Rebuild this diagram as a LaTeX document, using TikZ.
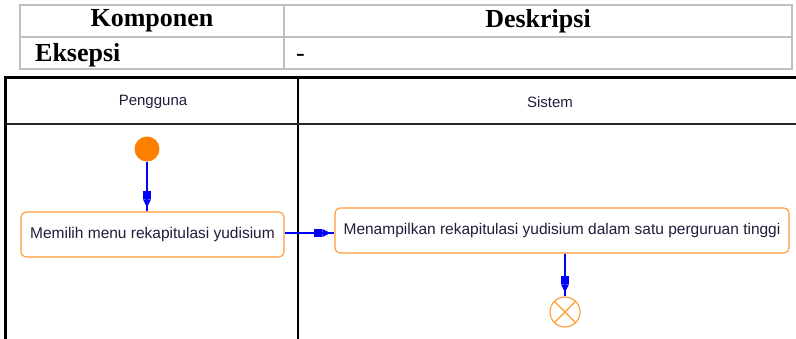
\documentclass[tikz,border=0pt]{standalone}
\usepackage{fontspec}
\setmainfont{Liberation Serif}
\newfontfamily\diagfont{Liberation Sans}
\usetikzlibrary{arrows.meta,calc}
\definecolor{tgray}{HTML}{BFBFBF}
\definecolor{uorange}{HTML}{FF8000}
\definecolor{borange}{HTML}{FF9933}
\definecolor{txtc}{HTML}{1E1E3C}
\tikzset{
  tline/.style={draw=tgray,line width=1.6pt},
  thead/.style={font=\fontsize{26}{28}\selectfont\bfseries,inner sep=0pt},
  actbox/.style={draw=borange,line width=1.1pt,rounded corners=5pt,fill=white,
     font=\diagfont\fontsize{15.5}{17}\selectfont,text=txtc,inner sep=0pt,minimum height=45pt},
  lanetitle/.style={font=\diagfont\fontsize{15}{17}\selectfont,text=txtc,inner sep=0pt},
  flow/.style={draw=blue,line width=1.3pt,
     postaction={draw=blue,shorten >=4pt,
       -{Rectangle[length=8pt,width=7.5pt,sep=0pt]Triangle[length=8pt,width=7.5pt]}}},
}
\begin{document}
\begin{tikzpicture}[x=1pt,y=-1pt]
\useasboundingbox (0,0) rectangle (796,339);
% table
\draw[tline] (20,5) rectangle (792,69);
\draw[tline] (20,37) -- (792,37);
\draw[tline] (284,5) -- (284,69);
\node[thead] (hk) at (152,21) {Komponen};
\node[thead] (hd) at (538,21) {Deskripsi};
\node[thead,anchor=base west] (ek) at (35,62) {Eksepsi};
\node[font=\fontsize{26}{28}\selectfont,inner sep=0pt,anchor=base west] (dash) at (296,62) {-};
% pool
\draw[black,line width=2pt] (298,78) -- (298,339);
\draw[black!85,line width=2pt] (5,124) -- (796,124);
\draw[black,line width=3pt] (5,339) -- (5,78) -- (796,78);
\node[lanetitle] (lp) at (153,102) {Pengguna};
\node[lanetitle] (ls) at (550,102) {Sistem};
% nodes
\node[circle,fill=uorange,minimum size=25pt,inner sep=0pt] (start) at (147,149) {};
\node[actbox,minimum width=263pt] (act1) at (152.5,234.5) {Memilih menu rekapitulasi yudisium};
\node[actbox,minimum width=454pt] (act2) at (562,230.5) {Menampilkan rekapitulasi yudisium dalam satu perguruan tinggi};
\node[circle,draw=borange,line width=1.1pt,minimum size=30pt,inner sep=0pt] (end) at (565,312) {};
\draw[borange,line width=1.1pt] (end.north west) -- (end.south east)
  (end.north east) -- (end.south west);
% flows
\draw[flow] (start) -- (start |- act1.north);
\draw[flow] (act1.east |- 0,233) -- (act2.west |- 0,233);
\draw[flow] (end |- act2.south) -- (end.north);
\end{tikzpicture}
\end{document}
